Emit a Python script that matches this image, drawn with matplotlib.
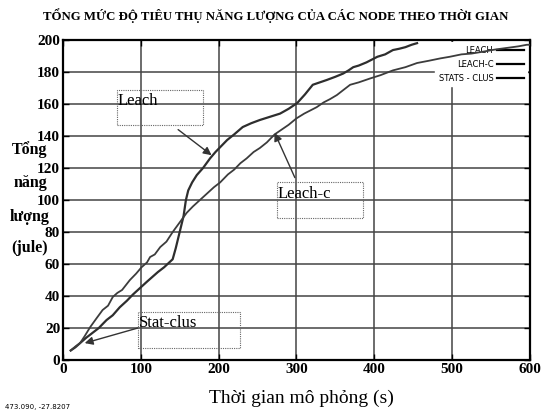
import matplotlib
matplotlib.use('Agg')
import matplotlib.pyplot as plt
from matplotlib.patches import Rectangle
from matplotlib.lines import Line2D

# %% dữ liệu
leach_x = [10, 16, 22, 30, 38, 46, 56, 64, 73, 82,
           90, 99, 108, 115, 122, 130, 141, 145, 150, 155,
           158, 161, 166, 172, 180, 189, 196, 204, 211, 220,
           231, 242, 253, 266, 279, 290, 301, 311, 321, 330,
           339, 350, 360, 367, 373, 380, 390, 404, 414, 424,
           432, 440, 448, 455]
leach_y = [6, 8, 10.6, 14, 17, 20, 25, 28, 33, 37,
           41, 45, 49, 52, 55, 58, 63, 70, 80, 90,
           100, 106, 111, 115.6, 120, 126, 130, 134, 137.5, 141,
           145.6, 148, 150, 152, 154, 157, 160.6, 166, 172, 173.5,
           175, 177, 179, 181, 183, 184, 186, 189.5, 191, 193.7,
           194.5, 195.5, 197, 198]

leachc_x = [10, 16, 22, 28, 35, 43, 51, 58, 64, 70,
            76, 86, 94, 101, 108, 112, 118, 125, 133, 141,
            150, 159, 167, 176, 185, 194, 202, 212, 220, 228,
            236, 245, 253, 262, 272, 281, 290, 300, 310, 318,
            326, 335, 343, 352, 361, 369, 380, 395, 408, 424,
            440, 455, 470, 485, 497, 512, 525, 540, 555, 570,
            585, 596, 600]
leachc_y = [6, 8.5, 10.6, 15, 20.6, 26, 31.3, 34, 39.4, 42,
            43.8, 50, 54, 58, 61, 64.4, 66, 70.6, 74, 80,
            86, 92, 96, 100, 104, 108, 111, 116, 119, 123,
            126, 130, 132.5, 136, 141, 144, 147, 151, 154, 156,
            158, 161, 163, 165.6, 169, 172, 173.5, 176, 178, 181,
            183, 185.6, 187, 188.5, 189.5, 191, 191.5, 192.7, 194, 195,
            196, 197, 197]

legend_labels = ['LEACH', 'LEACH-C', 'STATS - CLUS']
x_ticks = [0, 100, 200, 300, 400, 500, 600]
y_ticks = [0, 20, 40, 60, 80, 100, 120, 140, 160, 180, 200]

# chú thích: (chữ, hộp x0, x1, y0, y1, mũi tên từ, mũi tên tới)
notes = [
    ('Leach', 69, 180, 147, 169, (148, 144), (191, 128)),
    ('Leach-c', 275, 386, 89, 111, (298, 114), (272, 142)),
    ('Stat-clus', 96, 228, 7.5, 30, (96, 20), (28, 10.6)),
]

SERIF = ['Liberation Serif', 'DejaVu Serif']

# %% vẽ
fig = plt.figure(figsize=(5.52, 4.12), dpi=100)
ax = fig.add_axes([0.114, 0.126, 0.846, 0.777])

ax.set_axisbelow(True)
ax.grid(True, color='#444444', lw=1.1)

ax.plot(leach_x, leach_y, color='#2e2e2e', lw=1.6, zorder=3)
ax.plot(leachc_x, leachc_y, color='#3c3c3c', lw=1.3, zorder=3)

ax.set_xlim(0, 600)
ax.set_ylim(0, 200)
ax.set_xticks(x_ticks)
ax.set_yticks(y_ticks)
ax.tick_params(direction='in', top=True, right=True, length=4, width=1,
               labelsize=11, pad=2)
for lab in ax.get_xticklabels() + ax.get_yticklabels():
    lab.set_family(SERIF)
    lab.set_fontweight('bold')
for s in ax.spines.values():
    s.set_linewidth(1.6)

for txt, x0, x1, y0, y1, p_from, p_to in notes:
    ax.add_patch(Rectangle((x0, y0), x1 - x0, y1 - y0, fill=False,
                           ls=(0, (1, 1)), lw=0.8, ec='#666666', zorder=4))
    ax.text(x0 + 1, y1 - 2, txt, family=SERIF, fontsize=12,
            va='top', ha='left', zorder=5)
    ax.annotate('', xy=p_to, xytext=p_from,
                arrowprops=dict(arrowstyle='-|>', color='#333333', lw=1.0,
                                mutation_scale=12, shrinkA=0, shrinkB=0),
                zorder=5)

handles = [Line2D([], [], color='black', lw=1.6) for _ in legend_labels]
leg = ax.legend(handles, legend_labels, loc='upper right', frameon=True,
                markerfirst=False, handlelength=3.2,
                borderaxespad=0.3, labelspacing=0.6, handletextpad=0.5,
                prop={'family': ['Liberation Sans Narrow', 'DejaVu Sans'], 'size': 6})
leg.get_frame().set_edgecolor('white')
leg.get_frame().set_facecolor('white')
leg.get_frame().set_alpha(1)
leg.set_zorder(1)

fig.text(0.5, 0.963, 'TỔNG MỨC ĐỘ TIÊU THỤ NĂNG LƯỢNG CỦA CÁC NODE THEO THỜI GIAN',
         ha='center', va='center', family=SERIF, fontsize=9.2, fontweight='bold')
fig.text(0.546, 0.034, 'Thời gian mô phỏng (s)', ha='center', va='center',
         family=SERIF, fontsize=14)

for word, py in [('Tổng', 150), ('năng', 183), ('lượng', 217), ('(jule)', 248)]:
    fig.text(30 / 552, 1 - py / 412, word, ha='center', va='center',
             family=SERIF, fontsize=11.5, fontweight='bold')

fig.text(5 / 552, 1 - 407 / 412, '473.090, -27.8207', ha='left', va='center',
         family=['Liberation Sans Narrow', 'DejaVu Sans'], fontsize=5)

fig.savefig('out.png', dpi=100)
